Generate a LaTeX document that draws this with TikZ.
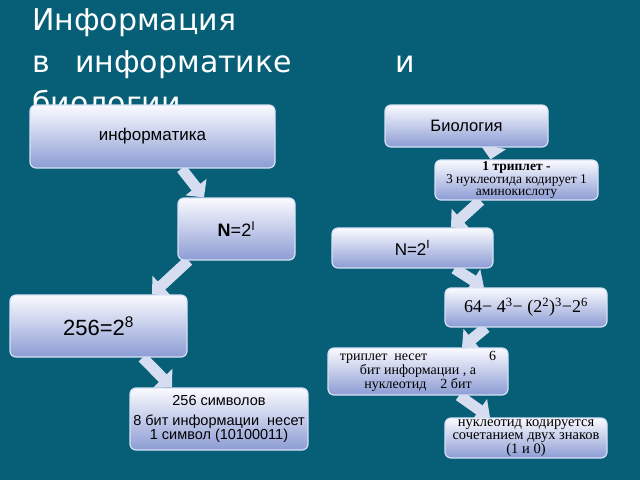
\documentclass[tikz,border=0pt]{standalone}
\usepackage{fontspec}
\setmainfont{Liberation Serif}
\setsansfont{Liberation Sans}
\newfontfamily\titlefont{DejaVu Sans}
\usetikzlibrary{arrows.meta}
\definecolor{bgteal}{RGB}{6,94,119}
\definecolor{boxbot}{RGB}{140,156,212}
\definecolor{boxtop}{RGB}{250,251,255}
\definecolor{boxedge}{RGB}{215,225,245}
\definecolor{arrowc}{RGB}{214,221,240}
\pgfdeclarelayer{back}
\pgfdeclarelayer{bg}
\pgfsetlayers{back,bg,main}
\begin{document}
\begin{tikzpicture}[x=1pt,y=-1pt,
  boxnode/.style={rounded corners=6pt, top color=boxtop, bottom color=boxbot,
    draw=boxedge, line width=1.2pt, inner sep=0pt, align=center, text=black},
  sanstext/.style={font=\sffamily\fontsize{#1}{#1}\selectfont},
  seriftext/.style={font=\rmfamily\fontsize{#1}{#1}\selectfont},
  titletext/.style={font=\titlefont\fontsize{30}{30}\selectfont, text=white, inner sep=0pt, anchor=base west},
  blockarrow/.style={line width=11pt, draw=arrowc, -{Triangle[length=13pt,width=26pt]}}
]
\begin{pgfonlayer}{back}
\fill[bgteal] (0,0) rectangle (640,480);
\end{pgfonlayer}
\useasboundingbox (0,0) rectangle (640,480);

% title
\node[titletext] (t1) at (32,30) {Информация};
\node[titletext] (t2) at (32,72) {в};
\node[titletext] (t3) at (75,72) {информатике};
\node[titletext] (t4) at (395,72) {и};
\node[titletext] (t5) at (32,113) {биологии};

% left column
\node[boxnode, minimum width=245pt, minimum height=63pt, sanstext=17] (b1) at (152.5,136.5) {информатика};
\node[boxnode, minimum width=117pt, minimum height=62pt, sanstext=18] (b2) at (236.5,229) {\textbf{N}=2\textsuperscript{I}};
\node[boxnode, minimum width=177pt, minimum height=62pt, sanstext=22] (b3) at (98.5,326) {256=2\textsuperscript{8}};
\node[boxnode, minimum width=178pt, minimum height=62pt, sanstext=14.5] (b4) at (219,419)
  {256 символов\\[5pt]8 бит информации \ несет\\1 символ (10100011)};

% right column
\node[boxnode, minimum width=163pt, minimum height=42pt, sanstext=16.5] (r1) at (466.5,126) {Биология};
\node[boxnode, minimum width=163pt, minimum height=40pt, seriftext=13.5] (r2) at (516.5,180)
  {\textbf{1 триплет -}\\[-1pt]3 нуклеотида кодирует 1\\[-1pt]аминокислоту};
\node[boxnode, minimum width=161pt, minimum height=40pt, sanstext=17] (r3) at (412.5,248) {N=2\textsuperscript{I}};
\node[boxnode, minimum width=162pt, minimum height=39pt, seriftext=18] (r4) at (526,307.5)
  {64− 4\textsuperscript{3}− (2\textsuperscript{2})\textsuperscript{3}−2\textsuperscript{6}};
\node[boxnode, minimum width=180pt, minimum height=47pt, seriftext=14] (r5) at (418,371.5)
  {триплет \ несет\hspace{62pt}6\\бит информации , а\\нуклеотид \ \ \ 2 бит};
\node[boxnode, minimum width=162pt, minimum height=40pt, seriftext=14.5] (r6) at (526,438)
  {нуклеотид кодируется\\[-1pt]сочетанием двух знаков\\[-1pt](1 и 0)};

% arrows
\begin{pgfonlayer}{bg}
\draw[blockarrow] ([xshift=29pt]b1.south) -- ([xshift=-32.5pt]b2.north);
\draw[blockarrow] ([xshift=-48pt]b2.south) -- ([xshift=53.5pt]b3.north);
\draw[blockarrow] ([xshift=44pt]b3.south) -- ([xshift=-47pt]b4.north);
\draw[blockarrow] ([xshift=25.5pt,yshift=-4pt]r1.south) -- ([xshift=-26pt]r2.north);
\draw[blockarrow] ([xshift=-36pt]r2.south) -- ([xshift=38.5pt]r3.north);
\draw[blockarrow] ([xshift=42pt]r3.south) -- ([xshift=-42pt]r4.north);
\draw[blockarrow] ([xshift=-40pt]r4.south) -- ([xshift=44pt]r5.north);
\draw[blockarrow] ([xshift=41pt]r5.south) -- ([xshift=-36pt]r6.north);
\end{pgfonlayer}
\end{tikzpicture}
\end{document}
